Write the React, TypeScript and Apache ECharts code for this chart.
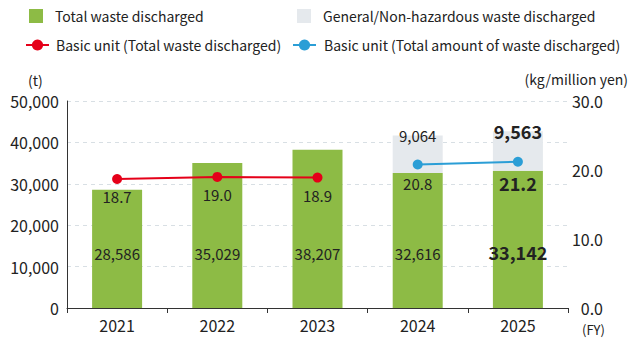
import React, { useEffect, useRef } from "react";
import * as echarts from "echarts";

const years = ["2021", "2022", "2023", "2024", "2025"];
const totalWaste = [28586, 35029, 38207, 32616, 33142];
const generalWaste = [null, null, null, 9064, 9563];
const unitTotal = [18.7, 19.0, 18.9, null, null];
const unitAmount = [null, null, null, 20.8, 21.2];
const leftTicks = { min: 0, max: 50000, interval: 10000 };
const rightTicks = { min: 0, max: 30, interval: 10 };

const FONT = "'Noto Sans CJK JP', 'Noto Sans', sans-serif";
const GREEN = "#8dbb45";
const GRAY = "#e5e9ed";
const RED = "#e50019";
const BLUE = "#2b9ed6";
const TEXT = "#222222";

export default function App() {
  const ref = useRef<HTMLDivElement>(null);
  useEffect(() => {
    if (!ref.current) return;
    const chart = echarts.init(ref.current, null, { renderer: "svg" });
    const lastIdx = years.length - 1;
    const bigLabel = { fontSize: 18, fontWeight: "bold" as const };
    const legendText = (pad: number) => ({
      fontFamily: FONT,
      fontSize: 14,
      color: TEXT,
      padding: [0, 0, 0, pad],
    });
    const legendBase = {
      orient: "horizontal" as const,
      itemGap: 0,
      padding: 0,
      selectedMode: false,
    };
    chart.setOption({
      animation: false,
      textStyle: { fontFamily: FONT },
      grid: { left: 67, right: 74, top: 101, bottom: 49 },
      legend: [
        { ...legendBase, left: 29, top: 9, itemWidth: 14, itemHeight: 14, textStyle: legendText(7), data: [{ name: "Total waste discharged", icon: "rect" }] },
        { ...legendBase, left: 297, top: 9, itemWidth: 14, itemHeight: 14, textStyle: legendText(7), data: [{ name: "General/Non-hazardous waste discharged", icon: "rect" }] },
        { ...legendBase, left: 25, top: 38, itemWidth: 23, itemHeight: 14, textStyle: legendText(2), data: ["Basic unit (Total waste discharged)"] },
        { ...legendBase, left: 292, top: 38, itemWidth: 23, itemHeight: 14, textStyle: legendText(3), data: ["Basic unit (Total amount of waste discharged)"] },
      ],
      xAxis: {
        type: "category",
        data: years,
        axisLine: { lineStyle: { color: "#333", width: 1 } },
        axisTick: { show: true, length: 5, lineStyle: { color: "#333" } },
        axisLabel: { fontSize: 16, color: TEXT, margin: 9, fontFamily: FONT },
      },
      yAxis: [
        {
          type: "value",
          ...leftTicks,
          axisLine: { show: true, lineStyle: { color: "#333" } },
          axisTick: { show: false },
          axisLabel: {
            fontSize: 16,
            color: TEXT,
            margin: 8,
            fontFamily: FONT,
            formatter: (v: number) => v.toLocaleString("en-US"),
          },
          splitLine: { lineStyle: { color: "#d8dfe4", type: [4, 4] } },
        },
        {
          type: "value",
          ...rightTicks,
          position: "right",
          axisLine: { show: false },
          axisTick: { show: false },
          axisLabel: {
            fontSize: 16,
            color: TEXT,
            margin: 35,
            align: "right",
            fontFamily: FONT,
            formatter: (v: number) => v.toFixed(1),
          },
          splitLine: { show: false },
        },
      ],
      graphic: [
        { type: "text", left: 28, top: 73, style: { text: "(t)", fontSize: 14, fill: TEXT, fontFamily: FONT } },
        { type: "text", right: 14, top: 72, style: { text: "(kg/million yen)", fontSize: 14, fill: TEXT, fontFamily: FONT } },
        { type: "text", left: 582, top: 323, style: { text: "(FY)", fontSize: 13, fill: TEXT, fontFamily: FONT } },
      ],
      series: [
        {
          name: "Total waste discharged",
          type: "bar",
          stack: "w",
          barWidth: 50,
          itemStyle: { color: GREEN },
          label: {
            show: true,
            position: "insideBottom",
            distance: 47,
            fontSize: 15,
            color: TEXT,
            fontFamily: FONT,
            formatter: (p: any) => Number(p.value).toLocaleString("en-US"),
          },
          data: totalWaste.map((v, i) => (i === lastIdx ? { value: v, label: bigLabel } : v)),
        },
        {
          name: "General/Non-hazardous waste discharged",
          type: "bar",
          stack: "w",
          barWidth: 50,
          itemStyle: { color: GRAY },
          label: {
            show: true,
            position: ["50%", 0],
            align: "center",
            verticalAlign: "middle",
            fontSize: 15,
            color: TEXT,
            fontFamily: FONT,
            formatter: (p: any) => (p.value == null ? "" : Number(p.value).toLocaleString("en-US")),
          },
          data: generalWaste.map((v, i) => (i === lastIdx ? { value: v, label: bigLabel } : v)),
        },
        {
          name: "Basic unit (Total waste discharged)",
          type: "line",
          yAxisIndex: 1,
          symbol: "circle",
          symbolSize: 10,
          lineStyle: { color: RED, width: 2 },
          itemStyle: { color: RED },
          label: {
            show: true,
            position: "bottom",
            distance: 5,
            fontSize: 15,
            color: TEXT,
            fontFamily: FONT,
            formatter: (p: any) => Number(p.value).toFixed(1),
          },
          data: unitTotal,
        },
        {
          name: "Basic unit (Total amount of waste discharged)",
          type: "line",
          yAxisIndex: 1,
          symbol: "circle",
          symbolSize: 10,
          lineStyle: { color: BLUE, width: 2 },
          itemStyle: { color: BLUE },
          label: {
            show: true,
            position: "bottom",
            distance: 7,
            fontSize: 15,
            color: TEXT,
            fontFamily: FONT,
            formatter: (p: any) => Number(p.value).toFixed(1),
          },
          data: unitAmount.map((v, i) => (i === lastIdx ? { value: v, label: bigLabel } : v)),
        },
      ],
    });
    return () => chart.dispose();
  }, []);
  return <div ref={ref} style={{ width: 642, height: 357, position: "absolute", left: 0, top: 0 }} />;
}
